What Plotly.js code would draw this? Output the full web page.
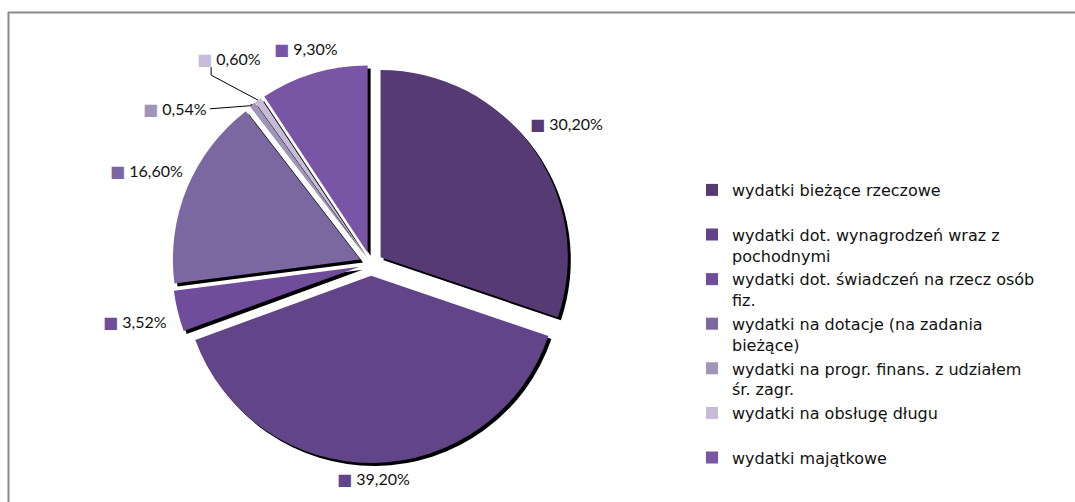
<!DOCTYPE html>
<html><head><meta charset="utf-8">
<script src="https://cdn.plot.ly/plotly-3.0.1.min.js"></script>
<style>html,body{margin:0;padding:0;background:#fff}#chart{width:1075px;height:502px}</style>
</head><body><div id="chart"></div>
<script>
// ---- data ----
const categories = [
  " wydatki bieżące rzeczowe",
  "wydatki dot. wynagrodzeń wraz z pochodnymi",
  "wydatki dot. świadczeń na rzecz osób fiz.",
  " wydatki na dotacje (na zadania bieżące)",
  "wydatki na progr. finans. z udziałem śr. zagr.",
  "wydatki na obsługę długu",
  "wydatki majątkowe"
];
const shares = [30.20, 39.20, 3.52, 16.60, 0.54, 0.60, 9.30];
const sliceColors = ["#553a74", "#624588", "#6f4d9b", "#7b68a0", "#a194b9", "#c6bcd7", "#7956a5"];

// ---- layout geometry ----
const W = 1075, H = 502;
const CX = 371, CY = 264, D = 398, PULL = 0.063;
const R = D / 2 / (1 + PULL);
const px = x => x / W, py = y => 1 - y / H;

function wrap(s, n) {
  const words = s.split(" "); const lines = []; let cur = "";
  words.forEach((w, i) => {
    const t = cur === "" && i > 0 ? w : (cur + (i ? " " : "") + w);
    if (t.length > n && cur.trim() !== "") { lines.push(cur); cur = w; } else cur = t;
  });
  lines.push(cur);
  if (lines.length < 2) lines.push(" ");
  return lines.join("<br>");
}
const legendLabels = categories.map(c => wrap(c, 36));
const fmt = v => v.toFixed(2).replace(".", ",") + "%";

const total = shares.reduce((a, b) => a + b, 0);
let cum = 0;
const mids = shares.map(v => { const m = (cum + v / 2) / total * 2 * Math.PI; cum += v; return m; });

const annotations = [];
const shapes = [];
const tinyIdx = shares.map((v, i) => v < 1 ? i : -1).filter(i => i >= 0);
shares.forEach((v, i) => {
  const th = mids[i];
  const s = Math.sin(th), c = -Math.cos(th);
  let lx, ly;
  const edgeR = R * (1 + PULL);
  if (v < 1) {
    const k = tinyIdx.length - 1 - tinyIdx.indexOf(i); // 0 for last tiny slice
    const a = th - k * 15 * Math.PI / 180;
    lx = CX + 250 * Math.sin(a); ly = CY - 250 * Math.cos(a);
    const ex = CX + edgeR * s, ey = CY + edgeR * c;
    let path;
    if (k === 0) path = `M${px(lx - 18)},${py(ly + 9)} L${px(lx - 18)},${py(ly + 17)} L${px(ex)},${py(ey)}`;
    else path = `M${px(lx + 35)},${py(ly)} L${px(ex - 3)},${py(ly - 3)} L${px(ex)},${py(ey)}`;
    shapes.push({type: "path", xref: "paper", yref: "paper", path: path, line: {color: "#000", width: 1}});
  } else {
    const d = 204 + 0.5 * (Math.abs(s) * 76 + Math.abs(c) * 20);
    lx = CX + d * s; ly = CY + d * c;
  }
  annotations.push({
    xref: "paper", yref: "paper", x: px(lx), y: py(ly), xanchor: "center", yanchor: "middle",
    showarrow: false,
    text: `<span style="color:${sliceColors[i]}">■</span> ${fmt(v)}`,
    font: {family: "Lato, 'DejaVu Sans', sans-serif", size: 16, color: "#111"}
  });
});

// frame
shapes.push({type: "line", xref: "paper", yref: "paper", x0: px(8), x1: 1, y0: py(12.5), y1: py(12.5), line: {color: "#8a8a8a", width: 2}});
shapes.push({type: "line", xref: "paper", yref: "paper", x0: px(8.5), x1: px(8.5), y0: py(12), y1: 0, line: {color: "#8a8a8a", width: 2}});

const dom = {x: [px(CX - D / 2), px(CX + D / 2)], y: [py(CY + D / 2), py(CY - D / 2)]};
const sdx = 3 / W, sdy = 3 / H;

const shadow = {
  type: "pie", labels: legendLabels, values: shares, sort: false, direction: "clockwise", rotation: 0,
  pull: shares.map(() => PULL), textinfo: "none", hoverinfo: "skip", showlegend: false,
  marker: {colors: shares.map(() => "#000"), line: {width: 0}},
  domain: {x: [dom.x[0] + sdx, dom.x[1] + sdx], y: [dom.y[0] - sdy, dom.y[1] - sdy]}
};
const main = {
  type: "pie", labels: legendLabels, values: shares, sort: false, direction: "clockwise", rotation: 0,
  pull: shares.map(() => PULL), textinfo: "none",
  marker: {colors: sliceColors, line: {width: 0}},
  domain: dom
};

const layout = {
  width: W, height: H, margin: {l: 0, r: 0, t: 0, b: 0},
  paper_bgcolor: "#fff", plot_bgcolor: "#fff",
  showlegend: true,
  legend: {x: px(692), y: py(173), xanchor: "left", yanchor: "top", valign: "top",
    font: {family: "'DejaVu Sans', sans-serif", size: 16, color: "#111"}, itemwidth: 30},
  annotations: annotations, shapes: shapes
};
Plotly.newPlot("chart", [shadow, main], layout, {displayModeBar: false, staticPlot: true});
</script></body></html>
